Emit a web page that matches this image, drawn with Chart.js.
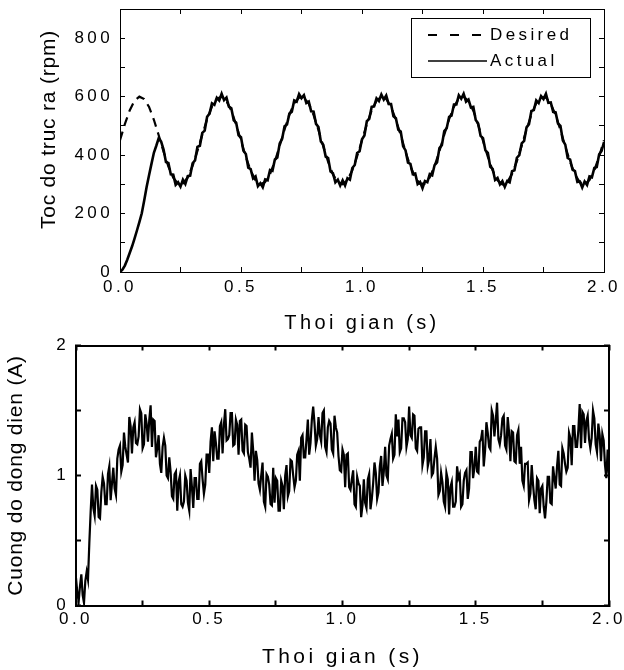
<!DOCTYPE html>
<html>
<head>
<meta charset="utf-8">
<script src="https://cdn.jsdelivr.net/npm/chart.js@4.4.1/dist/chart.umd.min.js"></script>
<style>
  html, body { margin: 0; padding: 0; background: #fff; }
  canvas { display: block; }
</style>
</head>
<body>
<canvas id="speedChart" width="624" height="335"></canvas>
<canvas id="currentChart" width="624" height="335"></canvas>
<script>
// sampling step of each recorded series (s)
var desiredStep = 0.02;
var actualStep = 0.01;
var currentStep = 0.005;

// axis labels that carry a number
var timeTicks = [0, 0.5, 1, 1.5, 2];
var speedTicks = [0, 200, 400, 600, 800];
var currentTicks = [0, 1, 2];

// reference speed (rpm), read every 0.02 s
var desiredSpeed = [
    451, 506, 553, 586, 600, 592, 565, 521, 468, 412, 361, 323, 302, 303, 324, 363, 414, 470, 523, 566,
    593, 600, 585, 552, 504, 449, 394, 347, 314, 300, 308, 335, 379, 432, 488, 539, 577, 597, 597, 576,
    537, 486, 430, 377, 334, 307, 300, 315, 348, 396,
    451, 506, 553, 586, 600, 592, 565, 521, 468, 412, 361, 323, 302, 303, 324, 363, 414, 470, 523, 566,
    593, 600, 585, 552, 504, 449, 394, 347, 314, 300, 308, 335, 379, 432, 488, 539, 577, 597, 597, 576,
    537, 486, 430, 377, 334, 307, 300, 315, 348, 396,
    451
];

// measured speed (rpm), read every 0.01 s
var actualSpeed = [
    0, 8, 22, 42, 65, 88, 114, 142, 171, 201, 245, 291, 331, 370, 408, 432, 458, 446,
    419, 376, 373, 334, 333, 298, 307, 292, 316, 301, 328, 330,
    372, 382, 428, 432, 476, 484, 531, 542, 577, 572,
    596, 587, 610, 588, 597, 566, 560, 519, 511, 468,
    461, 415, 404, 357, 352, 320, 327, 294, 304, 290,
    317, 314, 349, 346, 385, 392, 440, 456, 499, 505,
    542, 548, 587, 583, 609, 595, 605, 578, 583, 550,
    549, 507, 496, 447, 435, 395, 390, 344, 338, 307,
    316, 296, 314, 296, 321, 316, 356, 366, 407, 413,
    454, 467, 516, 524, 565, 567, 594, 585, 607, 590,
    604, 575, 575, 533, 526, 487, 481, 430, 416, 374,
    370, 335, 337, 301, 308, 287, 311, 307, 335, 331,
    366, 375, 424, 434, 482, 492, 531, 535, 573, 573,
    605, 593, 610, 583, 590, 563, 565, 520, 508, 466,
    458, 416, 408, 360, 353, 315, 322, 300, 311, 291,
    311, 307, 345, 348, 391, 400, 440, 449, 495, 506,
    551, 554, 587, 578, 602, 592, 610, 579, 580, 548,
    546, 508, 500, 450, 436, 390, 385, 350, 345, 308,
    310, 289, 310, 298, 327, 324, 356, 359, 403, 414,
    445
];

// motor current (A), read every 0.005 s
var motorCurrent = [
    0.21, 0.10, 0.03, 0.15, 0.24, 0.08, 0.02, 0.19, 0.26, 0.20, 0.48, 0.72,
    0.93, 0.75, 0.69, 0.92, 0.89, 0.68, 0.67, 0.87, 0.99, 0.94, 0.78, 0.78, 1.01, 1.07, 0.81, 0.94, 1.06, 0.90, 0.85, 1.13,
    1.20, 1.23, 1.03, 1.08, 1.33, 1.22, 1.16, 1.10, 1.45, 1.38, 1.17, 1.37, 1.41, 1.25, 1.24, 1.30, 1.51, 1.48, 1.21, 1.24,
    1.47, 1.40, 1.26, 1.43, 1.54, 1.22, 1.43, 1.42, 1.14, 1.21, 1.31, 1.09, 1.02, 1.22, 1.29, 1.23, 1.00, 0.98, 1.14, 1.03,
    0.84, 0.82, 1.01, 1.03, 0.73, 0.95, 1.00, 0.78, 0.76, 0.80, 1.00, 0.96, 0.79, 0.73, 1.05, 0.91, 0.75, 0.98, 0.98, 0.82,
    0.82, 1.09, 1.11, 0.97, 0.86, 0.93, 1.16, 1.16, 1.02, 1.26, 1.37, 1.11, 1.34, 1.25, 1.13, 1.13, 1.38, 1.41, 1.17, 1.39,
    1.51, 1.27, 1.28, 1.31, 1.48, 1.48, 1.23, 1.24, 1.43, 1.39, 1.16, 1.42, 1.43, 1.19, 1.17, 1.39, 1.38, 1.18, 1.13, 1.06,
    1.33, 1.19, 0.96, 1.19, 1.12, 0.94, 0.89, 1.00, 1.10, 0.80, 0.76, 1.01, 0.99, 0.93, 0.78, 0.77, 1.06, 0.79, 0.98, 0.96,
    0.73, 0.73, 0.96, 0.92, 0.74, 1.00, 1.08, 0.84, 0.88, 1.12, 1.11, 1.00, 0.91, 0.96, 1.16, 1.19, 0.96, 1.29, 1.31, 1.14,
    1.14, 1.28, 1.43, 1.16, 1.25, 1.43, 1.53, 1.40, 1.23, 1.28, 1.45, 1.31, 1.26, 1.48, 1.50, 1.22, 1.18, 1.37, 1.42, 1.40,
    1.20, 1.17, 1.46, 1.37, 1.33, 1.15, 1.04, 1.03, 1.20, 1.16, 0.91, 1.16, 1.17, 0.91, 0.89, 0.97, 1.04, 0.78, 0.76, 0.99,
    0.94, 0.92, 0.68, 0.77, 0.97, 0.79, 0.75, 0.97, 1.01, 0.74, 0.82, 0.94, 1.10, 1.02, 0.82, 0.87, 1.07, 1.15, 0.92, 1.03,
    1.22, 1.00, 0.97, 1.23, 1.28, 1.32, 1.13, 1.16, 1.47, 1.30, 1.43, 1.18, 1.21, 1.44, 1.44, 1.41, 1.22, 1.28, 1.53, 1.31,
    1.29, 1.47, 1.46, 1.21, 1.19, 1.36, 1.37, 1.37, 1.08, 1.14, 1.34, 1.34, 1.07, 1.12, 1.28, 1.00, 1.02, 1.13, 1.22, 1.13,
    0.85, 0.88, 1.02, 0.95, 0.80, 0.76, 1.02, 0.97, 0.70, 0.91, 0.95, 0.76, 0.76, 0.80, 1.07, 0.98, 1.01, 0.76, 0.78, 0.96,
    1.02, 1.04, 0.82, 0.90, 1.18, 1.18, 0.98, 1.06, 1.22, 1.03, 1.02, 1.26, 1.28, 1.35, 1.07, 1.19, 1.41, 1.33, 1.22, 1.20,
    1.50, 1.46, 1.30, 1.42, 1.56, 1.28, 1.24, 1.31, 1.44, 1.46, 1.23, 1.20, 1.45, 1.33, 1.11, 1.34, 1.33, 1.11, 1.10, 1.31,
    1.35, 1.09, 1.22, 0.96, 0.92, 1.09, 1.09, 1.10, 0.81, 0.86, 1.08, 0.93, 0.81, 0.74, 0.98, 0.96, 0.71, 0.90, 0.92, 0.76,
    0.67, 0.80, 0.99, 0.99, 0.79, 0.78, 1.07, 0.98, 0.90, 1.07, 1.19, 0.93, 0.92, 1.21, 1.17, 1.09, 1.03, 1.06, 1.33, 1.29,
    1.08, 1.38, 1.38, 1.22, 1.22, 1.35, 1.55, 1.21, 1.49, 1.47, 1.25, 1.42, 1.46, 1.28, 1.21, 1.29, 1.50, 1.44, 1.24, 1.18,
    1.40, 1.31, 1.11, 1.32, 1.27, 1.08, 0.98, 1.20, 1.02
];

Chart.defaults.font.family = "'Liberation Sans', Arial, sans-serif";
Chart.defaults.color = '#000';

function toPoints(values, step) {
    return values.map(function (v, i) {
        return { x: Math.round(i * step * 1000) / 1000, y: v };
    });
}

function labelIf(list, digits) {
    return function (value) {
        for (var i = 0; i < list.length; i++) {
            if (Math.abs(list[i] - value) < 1e-6) return value.toFixed(digits);
        }
        return '';
    };
}

function fixedSize(prop, size) {
    return function (scale) {
        scale[prop] = size;
        scale.paddingLeft = 0;
        scale.paddingRight = 0;
        scale.paddingTop = 0;
        scale.paddingBottom = 0;
    };
}

// ticks inside the frame on all four sides, no grid lines
function frameScales(o) {
    var grid = { drawOnChartArea: false, drawTicks: true, tickLength: -5, tickWidth: o.lineWidth, tickColor: '#000' };
    var border = { color: '#000', width: o.lineWidth };
    var tickFont = { size: 17 };
    return {
        x: {
            type: 'linear', position: 'bottom', min: 0, max: 2,
            ticks: { stepSize: 0.25, autoSkip: false, maxRotation: 0, padding: o.xPad, font: tickFont,
                     callback: labelIf(timeTicks, 1) },
            grid: grid, border: border,
            title: { display: true, text: 'Thoi gian (s)', font: { size: o.xTitleSize }, padding: 0 },
            afterFit: fixedSize('height', o.xHeight)
        },
        x2: {
            type: 'linear', position: 'top', min: 0, max: 2,
            ticks: { stepSize: 0.25, display: false },
            grid: grid, border: border,
            afterFit: fixedSize('height', o.topGap)
        },
        y: {
            type: 'linear', position: 'left', min: 0, max: o.yMax,
            ticks: { stepSize: o.yStep, autoSkip: false, padding: 12, font: tickFont,
                     callback: labelIf(o.yTicks, 0) },
            grid: grid, border: border,
            title: { display: true, text: o.yTitle, font: { size: 21 }, padding: { top: o.yTitlePad, bottom: 0 } },
            afterFit: fixedSize('width', o.yWidth)
        },
        y2: {
            type: 'linear', position: 'right', min: 0, max: o.yMax,
            ticks: { stepSize: o.yStep, display: false },
            grid: grid, border: border,
            afterFit: fixedSize('width', o.rightGap)
        }
    };
}

// wide letter spacing for ticks / x title, tight for the y title
var spacedText = {
    id: 'spacedText',
    beforeDraw: function (chart, args, opts) {
        var ctx = chart.ctx;
        ctx.letterSpacing = '3.4px';
        var ys = chart.scales.y;
        if (!ys._tightTitle) {
            var drawTitle = ys.drawTitle;
            ys.drawTitle = function () {
                ctx.save();
                ctx.letterSpacing = '0.8px';
                ctx.translate(0, opts.yTitleShift || 0);
                drawTitle.call(this);
                ctx.restore();
            };
            ys._tightTitle = true;
        }
    }
};

// boxed legend in the top right corner of the speed plot
var boxLegend = {
    id: 'boxLegend',
    afterDraw: function (chart) {
        var ctx = chart.ctx;
        var area = chart.chartArea;
        var right = area.right - 14;
        var left = right - 179;
        var top = area.top + 9;
        ctx.save();
        ctx.strokeStyle = '#000';
        ctx.lineWidth = 1;
        ctx.strokeRect(Math.round(left) + 0.5, Math.round(top) + 0.5, 179, 59);
        ctx.font = "17px 'Liberation Sans', Arial, sans-serif";
        ctx.letterSpacing = '3.4px';
        ctx.fillStyle = '#000';
        ctx.textBaseline = 'middle';
        chart.data.datasets.forEach(function (ds, i) {
            var y = top + 17 + i * 26;
            ctx.beginPath();
            ctx.setLineDash(ds.borderDash ? [9, 13] : []);
            ctx.lineWidth = ds.borderDash ? 2 : 1.5;
            ctx.moveTo(left + 17, y);
            ctx.lineTo(left + 76, y);
            ctx.stroke();
            ctx.fillText(ds.label, left + 79, y);
        });
        ctx.restore();
    }
};

new Chart(document.getElementById('speedChart'), {
    type: 'line',
    data: {
        datasets: [
            {
                label: 'Desired',
                data: toPoints(desiredSpeed, desiredStep),
                borderColor: '#000',
                borderWidth: 2.2,
                borderDash: [9, 6],
                pointRadius: 0,
                order: 1
            },
            {
                label: 'Actual',
                data: toPoints(actualSpeed, actualStep),
                borderColor: '#000',
                borderWidth: 2.6,
                pointRadius: 0,
                order: 0
            }
        ]
    },
    options: {
        responsive: false,
        animation: false,
        layout: { padding: 0 },
        scales: frameScales({
            lineWidth: 1, xPad: 10, xTitleSize: 20, xHeight: 63, topGap: 9,
            yMax: 900, yStep: 100, yTicks: speedTicks, yTitle: 'Toc do truc ra (rpm)',
            yTitlePad: 37, yWidth: 120, rightGap: 20
        }),
        plugins: {
            legend: { display: false },
            tooltip: { enabled: false },
            spacedText: { yTitleShift: -11 }
        }
    },
    plugins: [spacedText, boxLegend]
});

new Chart(document.getElementById('currentChart'), {
    type: 'line',
    data: {
        datasets: [
            {
                label: 'Current',
                data: toPoints(motorCurrent, currentStep),
                borderColor: '#000',
                borderWidth: 2.2,
                pointRadius: 0
            }
        ]
    },
    options: {
        responsive: false,
        animation: false,
        layout: { padding: 0 },
        scales: frameScales({
            lineWidth: 2, xPad: 9, xTitleSize: 21, xHeight: 64.5, topGap: 10.5,
            yMax: 2, yStep: 0.5, yTicks: currentTicks, yTitle: 'Cuong do dong dien (A)',
            yTitlePad: 4, yWidth: 76, rightGap: 15
        }),
        plugins: {
            legend: { display: false },
            tooltip: { enabled: false },
            spacedText: { yTitleShift: 0 }
        }
    },
    plugins: [spacedText]
});
</script>
</body>
</html>
